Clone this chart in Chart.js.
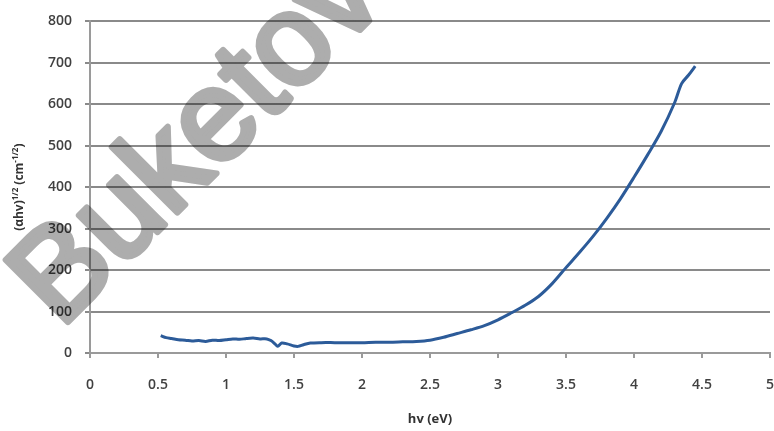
<!DOCTYPE html>
<html>
<head>
<meta charset="utf-8">
<script src="https://cdn.jsdelivr.net/npm/chart.js@4/dist/chart.umd.min.js"></script>
<style>
html,body{margin:0;padding:0;background:#fff;}
#wrap{width:774px;height:431px;position:relative;}
</style>
</head>
<body>
<div id="wrap"><canvas id="c" width="774" height="431"></canvas></div>
<script>
const hv = [0.52,0.56,0.60,0.65,0.70,0.75,0.80,0.85,0.90,0.95,1.00,1.05,1.10,1.15,1.20,1.25,1.30,1.33,1.36,1.38,1.41,1.45,1.50,1.53,1.57,1.62,1.70,1.80,1.90,2.00,2.10,2.20,2.30,2.40,2.50,2.60,2.70,2.80,2.90,3.00,3.10,3.20,3.30,3.40,3.50,3.60,3.70,3.80,3.90,4.00,4.10,4.20,4.30,4.35,4.40,4.45];
const ahv = [42,37,35,32,31,29,30,28,31,30,32,34,33,35,36,34,34,30,22,16,24,22,17,16,20,24,25,25,25,25,26,26,27,28,31,38,47,56,66,80,97,115,137,168,206,243,282,325,372,424,478,535,605,650,670,692];
const xTicks = [0,0.5,1,1.5,2,2.5,3,3.5,4,4.5,5];
const yTicks = [0,100,200,300,400,500,600,700,800];
const xTitle = 'hv (eV)';
const watermark = 'Buketov';

const points = hv.map((x,i)=>({x:x,y:ahv[i]}));

const overlay = {
  id:'overlay',
  afterDraw(chart){
    const ctx = chart.ctx;
    const ca = chart.chartArea;
    // y-axis title with superscripts
    ctx.save();
    ctx.translate(20, (ca.top+ca.bottom)/2);
    ctx.rotate(-Math.PI/2);
    ctx.fillStyle = '#333';
    ctx.textBaseline = 'middle';
    const parts = [
      ['(αhv)', 'bold 12px "Open Sans"', 0],
      ['1/2', 'bold 8px "Open Sans"', -4],
      [' (cm', 'bold 12px "Open Sans"', 0],
      ['-1/2', 'bold 8px "Open Sans"', -4],
      [')', 'bold 12px "Open Sans"', 0]
    ];
    let total = 0;
    parts.forEach(p=>{ctx.font=p[1]; total += ctx.measureText(p[0]).width;});
    let x = -total/2;
    parts.forEach(p=>{ctx.font=p[1]; ctx.fillText(p[0], x, p[2]); x += ctx.measureText(p[0]).width;});
    ctx.restore();
    // watermark (drawn off-screen, then multiplied so grid shows through)
    const off = document.createElement('canvas');
    off.width = chart.width; off.height = chart.height;
    const o = off.getContext('2d');
    o.translate(199, 141);
    o.rotate(-Math.PI/4);
    o.font = '128px "Liberation Sans"';
    o.textAlign = 'center';
    o.textBaseline = 'middle';
    o.fillStyle = '#adadad';
    o.strokeStyle = '#adadad';
    o.lineWidth = 6;
    o.lineJoin = 'round';
    o.fillText(watermark, 0, 0);
    o.strokeText(watermark, 0, 0);
    ctx.save();
    ctx.globalCompositeOperation = 'multiply';
    ctx.drawImage(off, 0, 0);
    ctx.restore();
  }
};

new Chart(document.getElementById('c'), {
  type:'scatter',
  data:{datasets:[{
    data:points,
    showLine:true,
    borderColor:'#2c5b99',
    borderWidth:3,
    pointRadius:0,
    tension:0.3,
    fill:false
  }]},
  options:{
    responsive:false,
    animation:false,
    layout:{padding:{top:18,right:4,left:0,bottom:0}},
    plugins:{legend:{display:false},tooltip:{enabled:false}},
    scales:{
      x:{
        type:'linear',min:0,max:5,
        afterBuildTicks(s){ s.ticks = xTicks.map(v=>({value:v})); },
        afterFit(s){ s.height = 78; s.paddingRight = 0; s.paddingLeft = 0; },
        grid:{drawOnChartArea:false,drawTicks:true,tickLength:5,color:'#9a9a9a',lineWidth:2},
        border:{color:'#9a9a9a',width:2},
        ticks:{padding:19,color:'#404040',font:{family:'"Open Sans"',size:14,weight:'600'},
          callback:v=>String(v)},
        title:{display:true,text:xTitle,color:'#333',font:{family:'"Open Sans"',size:13,weight:'bold'},padding:{top:11}}
      },
      y:{
        min:0,max:800,
        afterBuildTicks(s){ s.ticks = yTicks.map(v=>({value:v})); },
        afterFit(s){ s.width = 90; },
        grid:{color:'#8a8a8a',lineWidth:2,tickLength:5},
        border:{color:'#9a9a9a',width:2},
        ticks:{padding:13,color:'#404040',font:{family:'"Open Sans"',size:14,weight:'600'}}
      }
    }
  },
  plugins:[overlay]
});
</script>
</body>
</html>
